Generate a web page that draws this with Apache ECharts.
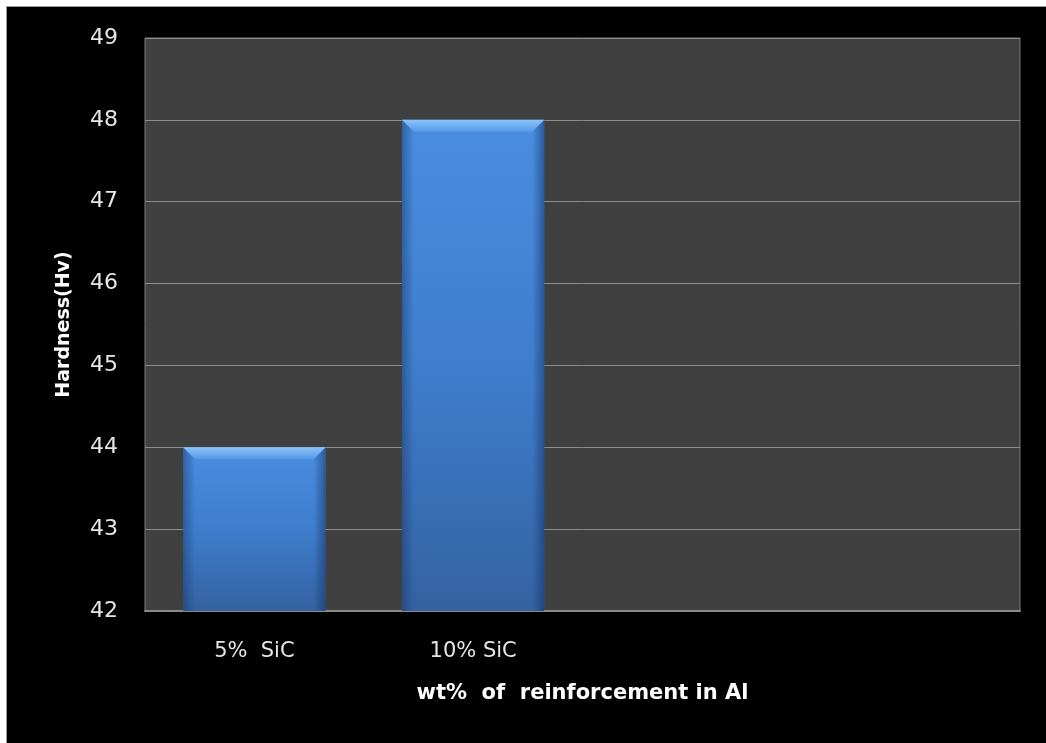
<!DOCTYPE html>
<html>
<head>
<meta charset="utf-8">
<script src="https://cdn.jsdelivr.net/npm/echarts@6/dist/echarts.min.js"></script>
<style>
  html, body { margin: 0; padding: 0; background: #ffffff; }
  #frame { position: absolute; left: 6px; top: 6px; width: 1040px; height: 737px;
           background: #000000; border-left: 1px solid #9a9a9a; border-top: 1px solid #9a9a9a; box-sizing: border-box; }
  #chart { position: absolute; left: 0; top: 0; width: 1046px; height: 743px; }
</style>
</head>
<body>
<div id="frame"></div>
<div id="chart"></div>
<script>
// Hardness of Al composites by SiC reinforcement content
const categories = ['5%  SiC', '10% SiC', '', ''];
const hardness = [44, 48];
const yMin = 42, yMax = 49, yStep = 1;

const barData = hardness.map((v, i) => [i, v]);
const BAR_RATIO = 0.65;
const BEVEL = 12;

// Bar drawn as a bevelled column: body, lit top facet and shaded side facets
function renderBevelBar(params, api) {
  const top = api.coord([api.value(0), api.value(1)]);
  const base = api.coord([api.value(0), yMin]);
  const w = api.size([1, 0])[0] * BAR_RATIO;
  const l = top[0] - w / 2, r = top[0] + w / 2;
  const t = top[1], b = base[1];
  const k = Math.min(BEVEL, (b - t) / 2);
  const vert = (stops) => ({ type: 'linear', x: 0, y: 0, x2: 0, y2: 1, colorStops: stops });
  return {
    type: 'group',
    children: [
      { type: 'rect', shape: { x: l, y: t, width: w, height: b - t },
        style: { fill: vert([{ offset: 0, color: '#4a8de0' }, { offset: 0.5, color: '#3f7ecd' }, { offset: 1, color: '#3462a2' }]) } },
      { type: 'polygon', shape: { points: [[l, t], [l + k, t + k], [l + k, b], [l, b]] },
        style: { fill: { type: 'linear', x: 0, y: 0, x2: 1, y2: 0, colorStops: [
          { offset: 0, color: 'rgba(20,50,100,0.45)' }, { offset: 1, color: 'rgba(20,50,100,0)' }] } } },
      { type: 'polygon', shape: { points: [[r, t], [r - k, t + k], [r - k, b], [r, b]] },
        style: { fill: { type: 'linear', x: 1, y: 0, x2: 0, y2: 0, colorStops: [
          { offset: 0, color: 'rgba(20,50,100,0.55)' }, { offset: 1, color: 'rgba(20,50,100,0)' }] } } },
      { type: 'polygon', shape: { points: [[l, t], [r, t], [r - k, t + k], [l + k, t + k]] },
        style: { fill: vert([{ offset: 0, color: '#8cc4fb' }, { offset: 1, color: '#5598e6' }]) } }
    ]
  };
}

const chart = echarts.init(document.getElementById('chart'), null, { renderer: 'canvas' });
chart.setOption({
  backgroundColor: 'transparent',
  animation: false,
  grid: {
    left: 145, top: 38, right: 26, bottom: 132,
    show: true, backgroundColor: '#404040', borderColor: '#7a7a7a', borderWidth: 1
  },
  xAxis: {
    type: 'category',
    data: categories,
    name: 'wt%  of  reinforcement in Al',
    nameLocation: 'middle',
    nameGap: 72,
    nameTextStyle: { color: '#ffffff', fontSize: 21, fontWeight: 'bold', fontFamily: 'DejaVu Sans' },
    axisLine: { lineStyle: { color: '#8a8a8a', width: 2 } },
    axisTick: { show: false },
    axisLabel: { color: '#e6e6e6', fontSize: 21, fontFamily: 'DejaVu Sans', margin: 30 },
    splitLine: { show: false }
  },
  yAxis: {
    type: 'value',
    min: yMin, max: yMax, interval: yStep,
    name: 'Hardness(Hv)',
    nameLocation: 'middle',
    nameRotate: 90,
    nameGap: 71,
    nameTextStyle: { color: '#ffffff', fontSize: 19, fontWeight: 'bold', fontFamily: 'DejaVu Sans' },
    axisLine: { show: false },
    axisTick: { show: false },
    axisLabel: { color: '#e6e6e6', fontSize: 22, fontFamily: 'DejaVu Sans', margin: 27 },
    splitLine: { lineStyle: { color: '#8c8c8c', width: 1 } }
  },
  series: [{
    type: 'custom',
    data: barData,
    encode: { x: 0, y: 1 },
    renderItem: renderBevelBar
  }]
});
</script>
</body>
</html>
